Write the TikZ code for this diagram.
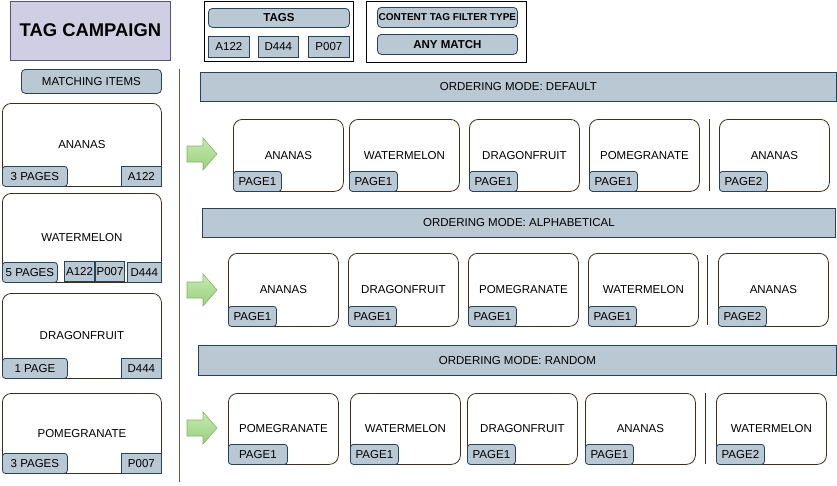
\documentclass[tikz,border=0pt]{standalone}
\usepackage{fontspec}
\setmainfont{Liberation Sans}

\definecolor{chipfill}{HTML}{BAC8D3}
\definecolor{chipline}{HTML}{23445D}
\definecolor{cardline}{HTML}{3F2E1E}
\definecolor{titlefill}{HTML}{D0CEE2}
\definecolor{titleline}{HTML}{56517E}
\definecolor{arrowtop}{HTML}{C9E8B6}
\definecolor{arrowbot}{HTML}{97D077}
\definecolor{arrowline}{HTML}{82B366}

\newcommand{\lbl}{\fontsize{11.5}{13}\selectfont}

\tikzset{
  card/.style={draw=cardline, fill=white, line width=0.8pt, rounded corners=9pt,
    minimum width=110pt, minimum height=72pt, inner sep=0pt, anchor=north west, font=\lbl},
  chip/.style={draw=chipline, fill=chipfill, line width=0.8pt, inner sep=0pt,
    minimum height=20pt, anchor=north west, font=\lbl},
  pagechip/.style={chip, rounded corners=3pt, minimum width=48pt, anchor=south west},
  modebar/.style={chip, minimum height=29pt},
  sortarrow/.style={draw=arrowline, line width=0.6pt, line join=miter,
    top color=arrowtop, bottom color=arrowbot},
  rowsep/.style={draw=cardline, line width=0.8pt}
}

\begin{document}
\begin{tikzpicture}[x=1pt, y=-1pt]
  \useasboundingbox (0,0) rectangle (837,485);
  % ---------- header ----------
  \node[draw=titleline, fill=titlefill, line width=0.8pt, anchor=north west,
    minimum width=160pt, minimum height=59.5pt, font=\fontsize{18.4}{20}\bfseries]
    (title) at (10,0.5) {TAG CAMPAIGN};
  \node[draw=black, line width=1pt, fill=white, anchor=north west,
    minimum width=149pt, minimum height=60pt] (tagsbox) at (204,1) {};
  \node[chip, rounded corners=4pt, minimum width=141pt, minimum height=19pt,
    font=\lbl\bfseries] (tagshead) at (208,8) {TAGS};
  \node[chip, minimum width=41pt, minimum height=21pt] (tagA) at (208,36) {A122};
  \node[chip, minimum width=40pt, minimum height=21pt] (tagD) at (258,36) {D444};
  \node[chip, minimum width=41pt, minimum height=21pt] (tagP) at (308,36) {P007};
  \node[draw=black, line width=1pt, fill=white, anchor=north west,
    minimum width=160pt, minimum height=61pt] (filterbox) at (366,1) {};
  \node[chip, rounded corners=4pt, minimum width=140pt,
    font=\fontsize{10}{12}\selectfont\bfseries] (filterhead) at (377,7)
    {CONTENT TAG FILTER TYPE};
  \node[chip, rounded corners=4pt, minimum width=140pt, font=\lbl\bfseries]
    (filtermode) at (377,34) {ANY MATCH};
  % ---------- matching items ----------
  \node[chip, rounded corners=4pt, minimum width=140pt, minimum height=24pt]
    (matching) at (21,69) {MATCHING ITEMS};
  \draw[draw=cardline!80, line width=0.9pt] (179,69) -- (179,482);

  \node[card, minimum width=159pt, minimum height=83pt] (itemA) at (2,103) {ANANAS};
  \node[chip, rounded corners=3pt, minimum width=65pt, anchor=south west]
    (itemApages) at (itemA.south west) {3 PAGES};
  \node[chip, minimum width=40pt, anchor=south east] (itemAtag) at (itemA.south east) {A122};

  \node[card, minimum width=159pt, minimum height=89pt] (itemW) at (2,193) {WATERMELON};
  \node[chip, rounded corners=3pt, minimum width=55pt, anchor=south west]
    (itemWpages) at (itemW.south west) {5 PAGES};
  \node[chip, minimum width=34pt, anchor=south east] (itemWtagD) at (itemW.south east) {D444};
  \node[chip, minimum width=29pt, anchor=south east] (itemWtagP) at (125,282) {P007};
  \node[chip, minimum width=30pt, anchor=south east] (itemWtagA) at (95,282) {A122};

  \node[card, minimum width=159pt, minimum height=85pt] (itemD) at (2,293) {DRAGONFRUIT};
  \node[chip, rounded corners=3pt, minimum width=65pt, anchor=south west]
    (itemDpages) at (itemD.south west) {1 PAGE};
  \node[chip, minimum width=40pt, anchor=south east] (itemDtag) at (itemD.south east) {D444};

  \node[card, minimum width=159pt, minimum height=80pt] (itemP) at (2,393) {POMEGRANATE};
  \node[chip, rounded corners=3pt, minimum width=65pt, anchor=south west]
    (itemPpages) at (itemP.south west) {3 PAGES};
  \node[chip, minimum width=40pt, anchor=south east] (itemPtag) at (itemP.south east) {P007};
  % ---------- ordering mode: default ----------
  \node[modebar, minimum width=636pt] (defbar) at (200,72) {ORDERING MODE: DEFAULT};
  \draw[sortarrow] (187,146) -- ++(16,0) -- ++(0,-8) -- ++(14,16) -- ++(-14,16)
    -- ++(0,-8) -- ++(-16,0) -- cycle;
  \node[card] (defA) at (233,119) {ANANAS};
  \node[pagechip] (defAp) at (defA.south west) {PAGE1};
  \node[card] (defW) at (349,119) {WATERMELON};
  \node[pagechip] (defWp) at (defW.south west) {PAGE1};
  \node[card] (defD) at (469,119) {DRAGONFRUIT};
  \node[pagechip] (defDp) at (defD.south west) {PAGE1};
  \node[card] (defP) at (589,119) {POMEGRANATE};
  \node[pagechip] (defPp) at (defP.south west) {PAGE1};
  \draw[rowsep] (709,119) -- (709,191);
  \node[card] (defA2) at (719,119) {ANANAS};
  \node[pagechip] (defA2p) at (defA2.south west) {PAGE2};
  % ---------- ordering mode: alphabetical ----------
  \node[modebar, minimum width=633pt] (alpbar) at (202,208) {ORDERING MODE: ALPHABETICAL};
  \draw[sortarrow] (187,282) -- ++(16,0) -- ++(0,-8) -- ++(14,16) -- ++(-14,16)
    -- ++(0,-8) -- ++(-16,0) -- cycle;
  \node[card, minimum height=73pt] (alpA) at (228,253) {ANANAS};
  \node[pagechip] (alpAp) at (alpA.south west) {PAGE1};
  \node[card, minimum height=73pt] (alpD) at (348,253) {DRAGONFRUIT};
  \node[pagechip] (alpDp) at (alpD.south west) {PAGE1};
  \node[card, minimum height=73pt] (alpP) at (468,253) {POMEGRANATE};
  \node[pagechip] (alpPp) at (alpP.south west) {PAGE1};
  \node[card, minimum height=73pt] (alpW) at (588,253) {WATERMELON};
  \node[pagechip] (alpWp) at (alpW.south west) {PAGE1};
  \draw[rowsep] (707,255) -- (707,325);
  \node[card, minimum height=73pt] (alpA2) at (718,253) {ANANAS};
  \node[pagechip] (alpA2p) at (alpA2.south west) {PAGE2};
  % ---------- ordering mode: random ----------
  \node[modebar, minimum width=638pt, minimum height=30pt] (rndbar) at (198,345)
    {ORDERING MODE: RANDOM};
  \draw[sortarrow] (187,420) -- ++(16,0) -- ++(0,-8) -- ++(14,16) -- ++(-14,16)
    -- ++(0,-8) -- ++(-16,0) -- cycle;
  \node[card, minimum height=71pt] (rndP) at (228,393) {POMEGRANATE};
  \node[pagechip, minimum width=59pt] (rndPp) at (rndP.south west) {PAGE1};
  \node[card, minimum height=71pt] (rndW) at (350,393) {WATERMELON};
  \node[pagechip] (rndWp) at (rndW.south west) {PAGE1};
  \node[card, minimum height=71pt] (rndD) at (467,393) {DRAGONFRUIT};
  \node[pagechip] (rndDp) at (rndD.south west) {PAGE1};
  \node[card, minimum height=71pt] (rndA) at (585,393) {ANANAS};
  \node[pagechip] (rndAp) at (rndA.south west) {PAGE1};
  \draw[rowsep] (705,393) -- (705,464);
  \node[card, minimum height=71pt] (rndW2) at (716,393) {WATERMELON};
  \node[pagechip] (rndW2p) at (rndW2.south west) {PAGE2};
\end{tikzpicture}
\end{document}
